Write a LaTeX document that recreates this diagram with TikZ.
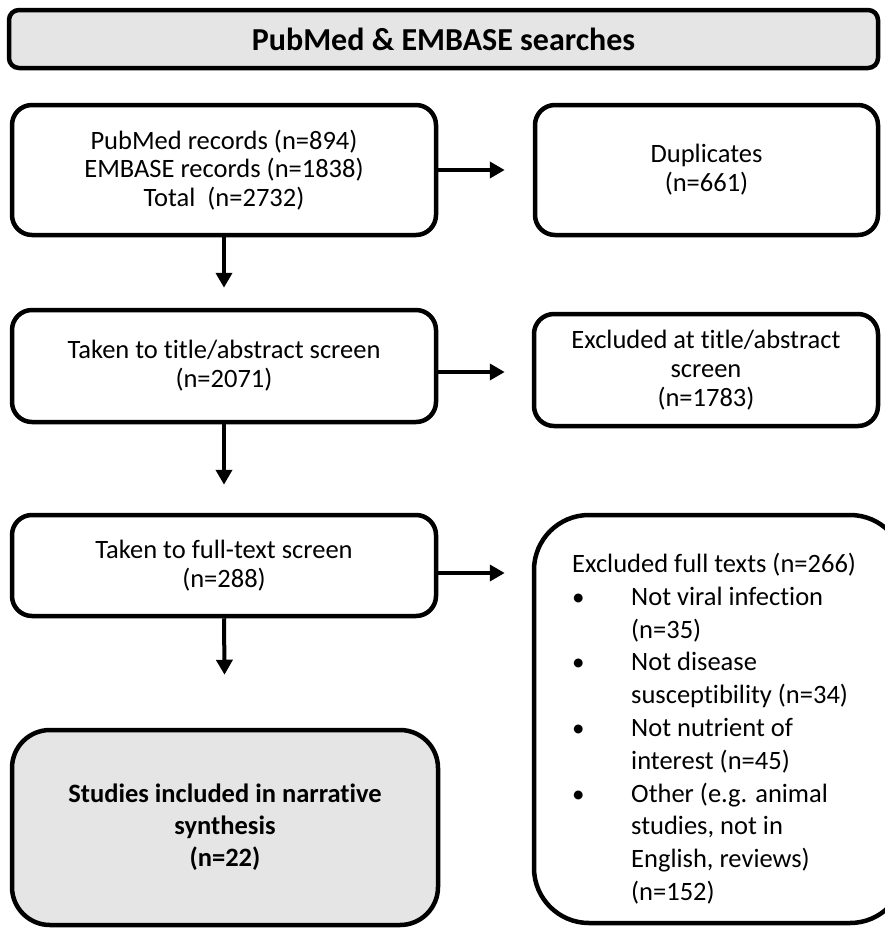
\documentclass[tikz,border=0pt]{standalone}
\usepackage{fontspec}
\setmainfont{Carlito}[RawFeature={-liga;-dlig;-calt}]
\usetikzlibrary{arrows.meta,calc}
\newcommand{\ti}{t\kern0pt i}
\begin{document}
\begin{tikzpicture}[x=1pt,y=-1pt,
  box/.style={draw=black,line width=4.5pt,rounded corners=20pt,align=center,
    font=\fontsize{26.5}{28.8}\selectfont,inner sep=0pt},
  grayfill/.style={fill=gray!20},
  arr/.style={line width=4pt,-{Triangle[length=15pt,width=16pt]}}]
\newcommand{\bt}{\makebox[59pt][l]{\fontsize{25}{25}\selectfont\textbullet}}
\newcommand{\nb}{\makebox[59pt][l]{}}
\useasboundingbox (0,0) rectangle (885,929);
% banner
\node[box,grayfill,rounded corners=10pt,minimum width=869pt,minimum height=58pt,
  font=\fontsize{32}{36}\bfseries\selectfont] (top) at (443.5,39) {PubMed \& EMBASE searches};
% left column
\node[box,minimum width=424pt,minimum height=130pt] (b1) at (224,170)
  {PubMed records (n=894)\\EMBASE records (n=1838)\\Total\ \ (n=2732)};
\node[box,minimum width=424pt,minimum height=112pt] (b2) at (224,366)
  {Taken to \ti tle/abstract screen\\(n=2071)};
\node[box,minimum width=424pt,minimum height=101pt] (b3) at (224,565.5)
  {Taken to full-text screen\\(n=288)};
\node[box,grayfill,rounded corners=38pt,minimum width=426pt,minimum height=195pt,
  font=\fontsize{26.5}{32}\bfseries\selectfont] (b4) at (225,827.5)
  {Studies included in narra\ti ve\\synthesis\\(n=22)};
% right column
\node[box,minimum width=343pt,minimum height=130pt] (e1) at (706.5,170)
  {Duplicates\\(n=661)};
\node[box,minimum width=344pt,minimum height=112pt] (e2) at (706,370)
  {Excluded at \ti tle/abstract\\screen\\(n=1783)};
\node[box,rounded corners=55pt,minimum width=371pt,minimum height=408pt] (e3) at (719.5,719) {};
\node[anchor=north west,align=left,inner sep=0pt,font=\fontsize{26.5}{32.8}\selectfont] (e3t) at (572,553)
  {Excluded full texts (n=266)\\
   \bt Not viral infec\ti on\\
   \nb (n=35)\\
   \bt Not disease\\
   \nb suscep\ti bility (n=34)\\
   \bt Not nutrient of\\
   \nb interest (n=45)\\
   \bt Other (e.g. animal\\
   \nb studies, not in\\
   \nb English, reviews)\\
   \nb (n=152)};
% arrows
\draw[arr,shorten >=20pt] (b1.south) -- (b2.north);
\draw[arr,shorten >=28pt] (b2.south) -- (b3.north);
\draw[arr,shorten >=53pt] (b3.south) -- (b4.north);
\draw[arr,shorten >=28pt] (b1.east) -- (e1.west);
\draw[arr,shorten >=27pt] ([yshift=-6pt]b2.east) -- ([yshift=-6pt]b2.east -| e2.west);
\draw[arr,shorten >=27pt] ([yshift=-7.5pt]b3.east) -- ([yshift=-7.5pt]b3.east -| e3.west);
\end{tikzpicture}
\end{document}
